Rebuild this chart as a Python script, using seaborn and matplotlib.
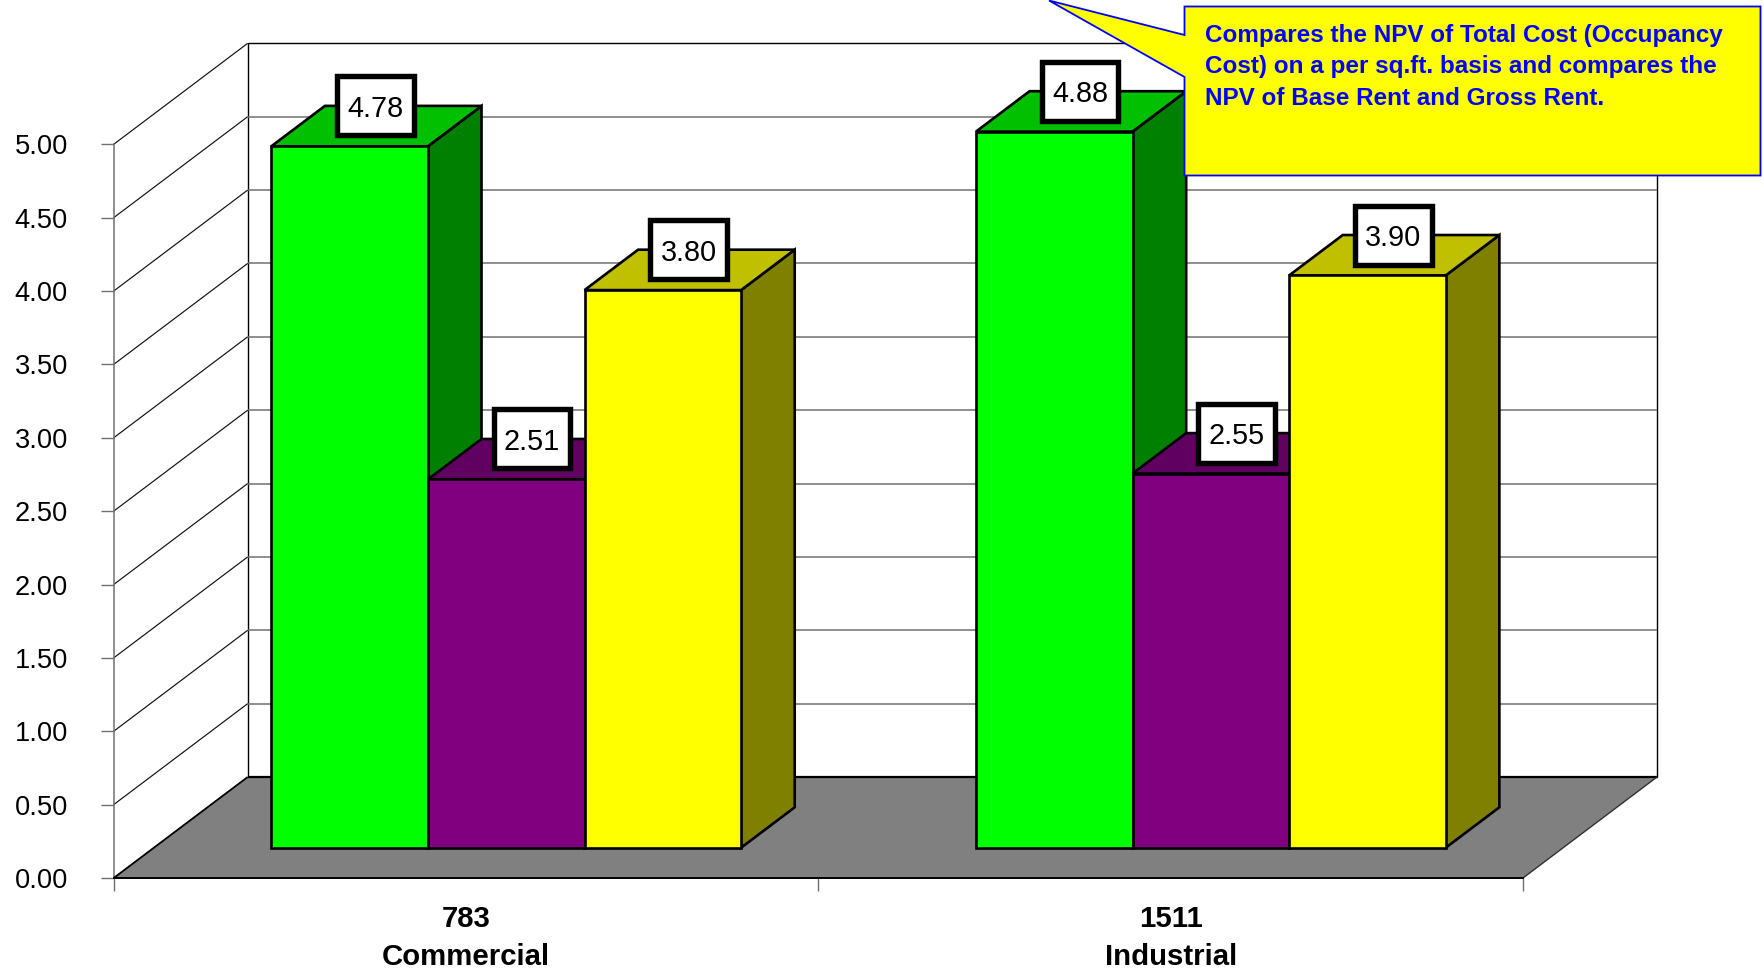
import matplotlib
matplotlib.use("Agg")
import matplotlib.pyplot as plt
import numpy as np
import pandas as pd
import seaborn as sns
from matplotlib.patches import Polygon, Rectangle

# Chart values
categories = ["783\nCommercial", "1511\nIndustrial"]
series_names = ["Total Cost", "Base Rent", "Gross Rent"]
total_cost = [4.78, 4.88]
base_rent = [2.51, 2.55]
gross_rent = [3.80, 3.90]
y_ticks = [0.0, 0.5, 1.0, 1.5, 2.0, 2.5, 3.0, 3.5, 4.0, 4.5, 5.0]
callout_lines = [
    "Compares the NPV of Total Cost (Occupancy",
    "Cost) on a per sq.ft. basis and compares the",
    "NPV of Base Rent and Gross Rent.",
]

# Face colours per series: front, top, side
front_colors = {"Total Cost": "#00FF00", "Base Rent": "#800080", "Gross Rent": "#FFFF00"}
top_colors = {"Total Cost": "#00C000", "Base Rent": "#600060", "Gross Rent": "#C0C000"}
side_colors = {"Total Cost": "#008000", "Base Rent": "#400040", "Gross Rent": "#808000"}

WIDTH, HEIGHT = 1765, 971
LEFT, RIGHT, TOP, BOTTOM = 113.7, 1523.0, 144.3, 878.0  # front plane in pixels
DEPTH_PX = (134.0, 101.0)  # full floor depth in pixels
BAR_OFFSET = 0.30  # where the bars' front faces sit within the floor depth
BAR_DEPTH = 0.40  # bar thickness as a share of the floor depth

sns.set_theme(style="white")
plt.rcParams["font.family"] = ["Liberation Sans", "DejaVu Sans"]
plt.rcParams["axes.unicode_minus"] = False

fig = plt.figure(figsize=(WIDTH / 100, HEIGHT / 100), dpi=100, facecolor="white")
ax = fig.add_axes([LEFT / WIDTH, 1 - BOTTOM / HEIGHT,
                   (RIGHT - LEFT) / WIDTH, (BOTTOM - TOP) / HEIGHT])
ax.patch.set_visible(False)

frame = pd.DataFrame({
    "category": categories * 3,
    "series": np.repeat(series_names, 2),
    "value": total_cost + base_rent + gross_rent,
})
sns.barplot(data=frame, x="category", y="value", hue="series",
            hue_order=series_names, palette=front_colors, saturation=1,
            width=2 / 3, gap=0, edgecolor="black", linewidth=1.9,
            legend=False, ax=ax)
bars = [b for b in ax.patches if b.get_height() > 0]

ax.set_xlim(-0.5, 1.5)
ax.set_ylim(0, 5)
unit_x = (RIGHT - LEFT) / 2
unit_y = (BOTTOM - TOP) / 5
ddx, ddy = DEPTH_PX[0] / unit_x, DEPTH_PX[1] / unit_y
x0, x1 = -0.5, 1.5


def face(points, fc, z, ec="black", lw=1.9):
    ax.add_patch(Polygon(points, closed=True, facecolor=fc, edgecolor=ec,
                         linewidth=lw, zorder=z, clip_on=False,
                         joinstyle="miter"))


def line(xs, ys, color="black", lw=0.8, z=2):
    ax.plot(xs, ys, color=color, lw=lw, zorder=z, clip_on=False,
            solid_capstyle="butt")


# Back wall and left wall
face([(x0 + ddx, ddy), (x1 + ddx, ddy), (x1 + ddx, 5 + ddy), (x0 + ddx, 5 + ddy)],
     "white", 1, lw=1.0)
for v in y_ticks[1:-1]:
    line([x0 + ddx, x1 + ddx], [v + ddy, v + ddy], color="#707070", lw=1.1)
for v in y_ticks[1:]:
    line([x0, x0 + ddx], [v, v + ddy], color="#101010", lw=0.85)

# Floor
face([(x0, 0), (x1, 0), (x1 + ddx, ddy), (x0 + ddx, ddy)], "#808080", 3, ec="none", lw=0)
line([x0 + ddx, x1 + ddx], [ddy, ddy], lw=1.6, z=3.5)
line([x0, x0 + ddx], [0, ddy], lw=1.3, z=3.5)
line([x1, x1 + ddx], [0, ddy], color="#303030", lw=1.0, z=3.5)

# Extruded bars, painted left to right so nearer faces cover their neighbours
shift_x, shift_y = BAR_OFFSET * ddx, BAR_OFFSET * ddy
bar_dx, bar_dy = BAR_DEPTH * ddx, BAR_DEPTH * ddy
ordered = sorted(bars, key=lambda b: b.get_x())
hex_to_series = {matplotlib.colors.to_hex(c): s for s, c in front_colors.items()}
for i, bar in enumerate(ordered):
    name = hex_to_series[matplotlib.colors.to_hex(bar.get_facecolor())]
    value = bar.get_height()
    bar.set_x(bar.get_x() + shift_x)
    bar.set_y(shift_y)
    bar.set_clip_on(False)
    bar.set_zorder(10 + i + 0.5)
    xl, xr = bar.get_x(), bar.get_x() + bar.get_width()
    base, top = shift_y, shift_y + value
    face([(xr, base), (xr + bar_dx, base + bar_dy), (xr + bar_dx, top + bar_dy), (xr, top)],
         side_colors[name], 10 + i)
    face([(xl, top), (xr, top), (xr + bar_dx, top + bar_dy), (xl + bar_dx, top + bar_dy)],
         top_colors[name], 10 + i)
    # Value label on a heavy-framed white box
    cx = (xl + xr) / 2 + bar_dx / 2 - 1.0 / unit_x
    cy = top + bar_dy
    w, h = 76.5 / unit_x, 59.0 / unit_y
    ax.add_patch(Rectangle((cx - w / 2, cy - h / 2), w, h, facecolor="white",
                           edgecolor="black", linewidth=3.9, zorder=30, clip_on=False))
    ax.text(cx, cy, f"{value:.2f}", ha="center", va="center_baseline", fontsize=20.8,
            color="black", zorder=31, clip_on=False)

# Axes furniture
for side in ("top", "right"):
    ax.spines[side].set_visible(False)
ax.spines["left"].set_color("#707070")
ax.spines["left"].set_linewidth(1.1)
ax.spines["bottom"].set_color("black")
ax.spines["bottom"].set_linewidth(1.4)
ax.spines["bottom"].set_zorder(4)

ax.set_xlabel("")
ax.set_ylabel("")
ax.set_yticks(y_ticks)
ax.set_yticklabels([f"{v:.2f}" for v in y_ticks])
ax.tick_params(axis="y", length=9.4, width=1.0, color="#707070", pad=23.5,
               labelsize=19.6, labelcolor="black", left=True)
ax.set_xticks([-0.5, 0.5, 1.5], minor=True)
ax.tick_params(axis="x", which="minor", length=9.4, width=1.0, color="#707070", bottom=True)
ax.tick_params(axis="x", which="major", length=0, pad=19.5, labelsize=21.2, labelcolor="black")
for label in ax.get_xticklabels():
    label.set_fontweight("bold")
    label.set_linespacing(1.47)
    label.set_x(label.get_position()[0])


# Callout, positioned in figure pixels
def fx(x):
    return x / WIDTH


def fy(y):
    return 1 - y / HEIGHT


callout = [(1184.5, 6.5), (1760.5, 6.5), (1760.5, 175.5), (1184.5, 175.5),
           (1184.5, 77), (1049, 0.5), (1184.5, 35)]
fig.add_artist(Polygon([(fx(x), fy(y)) for x, y in callout], closed=True,
                       transform=fig.transFigure, facecolor="#FFFF00",
                       edgecolor="#0000FF", linewidth=1.3, zorder=50,
                       clip_on=False, joinstyle="miter"))
for text_line, y in zip(callout_lines, (35.5, 67.0, 98.5)):
    fig.text(fx(1205.5), fy(y), text_line, color="#0000FF", fontweight="bold",
             fontsize=17.5, ha="left", va="center", zorder=51)

fig.savefig("out.png", dpi=100, facecolor="white")
